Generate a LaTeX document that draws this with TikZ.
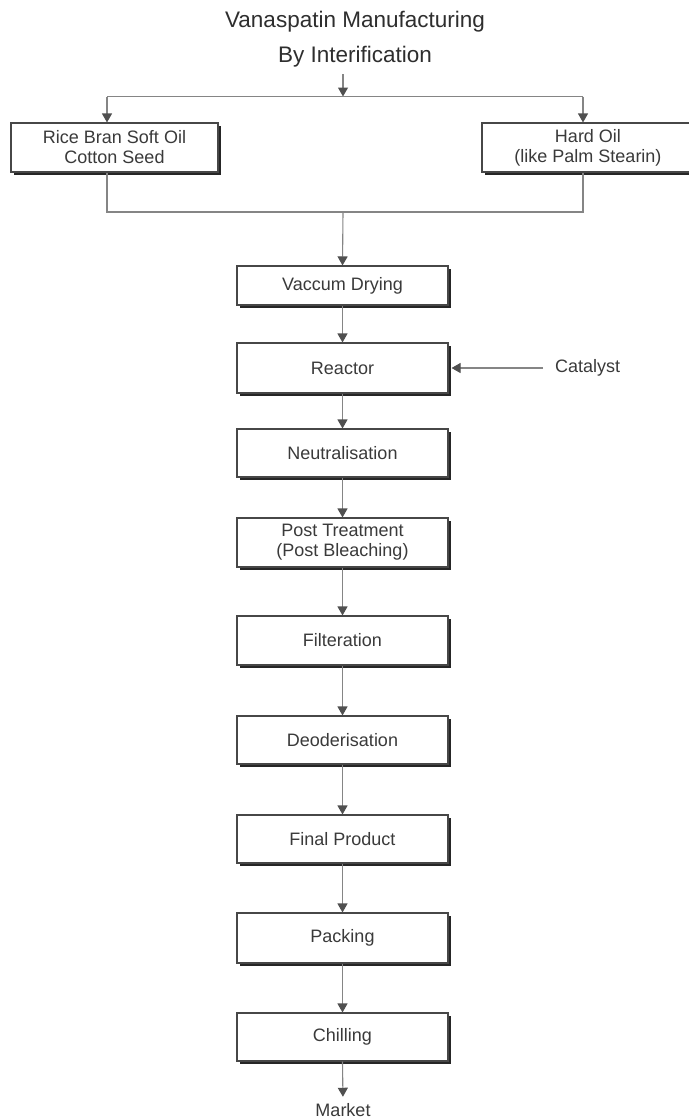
\documentclass[tikz,border=0pt]{standalone}
\usepackage{fontspec}
\setmainfont{Liberation Sans}
\usetikzlibrary{arrows.meta,shadows}
\definecolor{txt}{HTML}{3A3A3A}
\definecolor{ln}{HTML}{858585}
\definecolor{tipc}{HTML}{505050}
\tikzset{
  procbox/.style={draw=black!72, line width=1.1pt, fill=white, inner sep=0pt,
    minimum width=211pt, align=center, text=txt,
    font=\fontsize{18}{20}\selectfont,
    general shadow={fill=black!85, shadow xshift=3pt, shadow yshift=-3pt}},
  conn/.style={draw=ln, line width=1.1pt},
  arr/.style={conn, -{Triangle[length=9pt,width=10pt,color=tipc]}},
  ttl/.style={text=black!82, font=\fontsize{22.5}{25}\selectfont, inner sep=0pt},
  lbl/.style={text=txt, font=\fontsize{18}{20}\selectfont, inner sep=0pt}
}
\begin{document}
\begin{tikzpicture}[x=1pt,y=-1pt]
\useasboundingbox (0,0) rectangle (688,1119);
\fill[white] (0,0) rectangle (688,1119);
% titles
\node[ttl] (t1) at (355,22) {Vanaspatin Manufacturing};
\node[ttl] (t2) at (355,57) {By Interification};
% input boxes
\node[procbox, minimum width=207pt, minimum height=49pt] (left) at (114.5,147.5) {Rice Bran Soft Oil\\Cotton Seed};
\node[procbox, minimum width=212pt, minimum height=49pt] (right) at (588,147.5) {Hard Oil\\(like Palm Stearin)};
% process column
\node[procbox, minimum height=39pt] (vac) at (342.5,285.5) {Vaccum Drying};
\node[procbox, minimum height=50pt] (rea) at (342.5,368) {Reactor};
\node[procbox, minimum height=48pt] (neu) at (342.5,453) {Neutralisation};
\node[procbox, minimum height=49pt] (post) at (342.5,542.5) {Post Treatment\\(Post Bleaching)};
\node[procbox, minimum height=49pt] (fil) at (342.5,640.5) {Filteration};
\node[procbox, minimum height=48pt] (deo) at (342.5,740) {Deoderisation};
\node[procbox, minimum height=48pt] (fin) at (342.5,839) {Final Product};
\node[procbox, minimum height=50pt] (pac) at (342.5,938) {Packing};
\node[procbox, minimum height=48pt] (chi) at (342.5,1037) {Chilling};
\node[lbl, anchor=west] (cat) at (555,368) {Catalyst};
\node[lbl, anchor=base] (mkt) at (343,1116) {Market};
% split coordinates
\coordinate (ts) at (343,74);
\coordinate (split) at (343,96.5);
\coordinate (lt) at (107,96.5);
\coordinate (rt) at (583,96.5);
\coordinate (lb) at (107,212);
\coordinate (rb) at (583,212);
\coordinate (mb) at (343,212);
% top split
\draw[arr] (ts) -- (split);
\draw[conn] (lt) -- (rt);
\draw[arr] (lt) -- (lt |- left.north);
\draw[arr] (rt) -- (rt |- right.north);
% merge
\draw[conn] (lt |- left.south) -- (lb) -- (rb) -- (rt |- right.south);
\draw[arr] (mb) -- (vac.north);
% column
\draw[arr] (vac) -- (rea);
\draw[arr] (rea) -- (neu);
\draw[arr] (neu) -- (post);
\draw[arr] (post) -- (fil);
\draw[arr] (fil) -- (deo);
\draw[arr] (deo) -- (fin);
\draw[arr] (fin) -- (pac);
\draw[arr] (pac) -- (chi);
\draw[arr, shorten >=6pt] (chi.south) -- (mkt.north);
% catalyst
\draw[arr] ([xshift=-12pt]cat.west) -- ([xshift=3pt]rea.east);
% redraw boxes on top of connector ends
\end{tikzpicture}
\end{document}
